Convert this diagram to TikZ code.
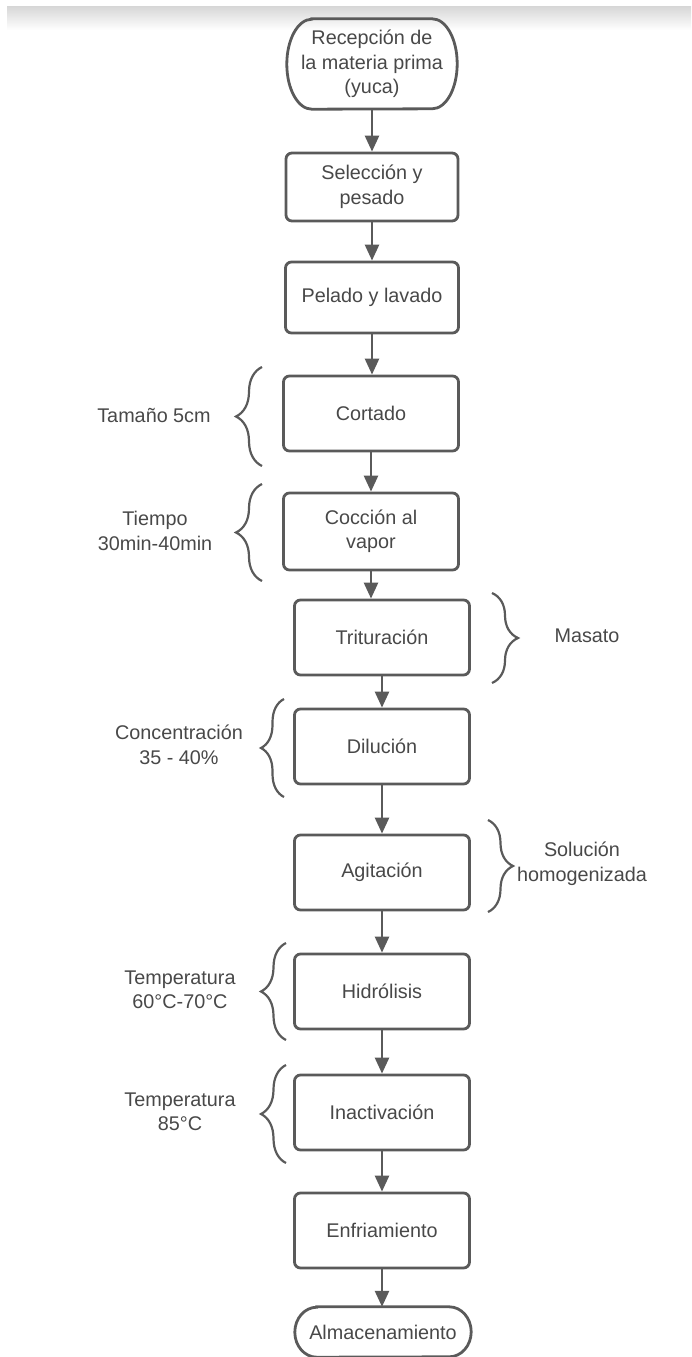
\documentclass[tikz,border=0pt]{standalone}
\usepackage{fontspec}
\setmainfont{Liberation Sans}
\usetikzlibrary{arrows.meta,decorations.pathreplacing}
\definecolor{ln}{HTML}{5A5A5A}
\definecolor{tx}{HTML}{484848}
\begin{document}
\begin{tikzpicture}[x=1pt,y=-1pt,
  txt/.style={text=tx, align=center, font=\fontsize{19.8}{24.5}\selectfont, inner sep=0pt},
  box/.style={txt, draw=ln, line width=2.8pt, rounded corners=6pt, minimum width=175pt, minimum height=75pt},
  term/.style={txt, minimum width=#1},
  arr/.style={draw=ln, line width=2.6pt, -{Triangle[length=16pt,width=14pt]}},
  brc/.style={draw=ln, line width=2.2pt, decorate, decoration={brace, amplitude=#1}},
  termline/.style={draw=ln, line width=2.8pt}
]
\useasboundingbox (0,0) rectangle (691,1357);
\shade[top color=black!16, bottom color=white] (7,6) rectangle (691,30);

% nodes
\node[term=170pt, minimum height=90pt] (n1) at (372,64) {Recepción de\\la materia prima\\(yuca)};
\draw[termline] ([xshift=25pt]n1.north west) -- ([xshift=-25pt]n1.north east)
  arc[start angle=90, end angle=-90, x radius=25pt, y radius=45pt]
  -- ([xshift=25pt]n1.south west)
  arc[start angle=270, end angle=90, x radius=25pt, y radius=45pt] -- cycle;
\node[box, minimum width=172pt, minimum height=68pt] (n2) at (372,187) {Selección y\\pesado};
\node[box, minimum width=173pt, minimum height=71pt] (n3) at (372,297.5) {Pelado y lavado};
\node[box] (n4) at (371,413.5) {Cortado};
\node[box, minimum height=77pt] (n5) at (371,531.5) {Cocción al\\vapor};
\node[box] (n6) at (382,637.5) {Trituración};
\node[box] (n7) at (382,746.5) {Dilución};
\node[box] (n8) at (382,872.5) {Agitación};
\node[box] (n9) at (382,991.5) {Hidrólisis};
\node[box] (n10) at (382,1112.5) {Inactivación};
\node[box] (n11) at (382,1230.5) {Enfriamiento};
\node[term=176pt, minimum height=50pt] (n12) at (383,1332) {Almacenamiento};
\draw[termline] ([xshift=22pt]n12.north west) -- ([xshift=-22pt]n12.north east)
  arc[start angle=90, end angle=-90, x radius=22pt, y radius=25pt]
  -- ([xshift=22pt]n12.south west)
  arc[start angle=270, end angle=90, x radius=22pt, y radius=25pt] -- cycle;

% connectors
\draw[arr] (n1.south) -- (n1.south |- n2.north);
\draw[arr] (n2.south) -- (n2.south |- n3.north);
\draw[arr] (n3.south) -- (n3.south |- n4.north);
\draw[arr] (n4.south) -- (n4.south |- n5.north);
\draw[arr] (n5.south) -- (n5.south |- n6.north);
\draw[arr] (n6.south) -- (n6.south |- n7.north);
\draw[arr] (n7.south) -- (n7.south |- n8.north);
\draw[arr] (n8.south) -- (n8.south |- n9.north);
\draw[arr] (n9.south) -- (n9.south |- n10.north);
\draw[arr] (n10.south) -- (n10.south |- n11.north);
\draw[arr] (n11.south) -- (n11.south |- n12.north);

% braces
\coordinate (b1a) at (262,466); \coordinate (b1b) at (262,367);
\coordinate (b2a) at (262,581); \coordinate (b2b) at (262,484);
\coordinate (b3a) at (492,593); \coordinate (b3b) at (492,683);
\coordinate (b4a) at (284,797); \coordinate (b4b) at (284,699);
\coordinate (b5a) at (488,820); \coordinate (b5b) at (488,912);
\coordinate (b6a) at (286,1040); \coordinate (b6b) at (286,943);
\coordinate (b7a) at (286,1163); \coordinate (b7b) at (286,1065);
\draw[brc=26pt] (b1a) -- (b1b);
\draw[brc=26pt] (b2a) -- (b2b);
\draw[brc=26pt] (b3a) -- (b3b);
\draw[brc=23pt] (b4a) -- (b4b);
\draw[brc=25pt] (b5a) -- (b5b);
\draw[brc=25pt] (b6a) -- (b6b);
\draw[brc=25pt] (b7a) -- (b7b);

% labels
\node[txt] (l1) at (154,415) {Tamaño 5cm};
\node[txt] (l2) at (155,531) {Tiempo\\30min-40min};
\node[txt] (l3) at (587,636) {Masato};
\node[txt] (l4) at (179,745) {Concentración\\35 - 40\%};
\node[txt] (l5) at (582,864) {Solución\\homogenizada};
\node[txt] (l6) at (180,990) {Temperatura\\60°C-70°C};
\node[txt] (l7) at (180,1112) {Temperatura\\85°C};
\end{tikzpicture}
\end{document}
